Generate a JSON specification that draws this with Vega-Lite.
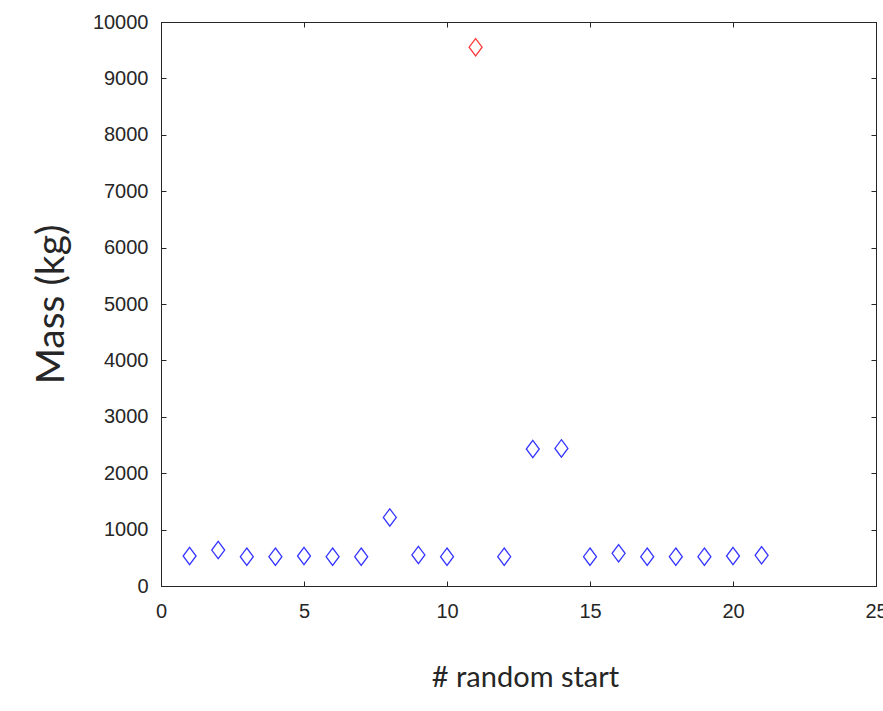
{
  "$schema": "https://vega.github.io/schema/vega-lite/v6.json",
  "width": 715,
  "height": 564,
  "autosize": "none",
  "padding": {"left": 161, "top": 22, "right": 7, "bottom": 125},
  "background": "white",
  "config": {
    "view": {"stroke": "#262626", "strokeWidth": 1},
    "axis": {
      "grid": false,
      "domainColor": "#262626",
      "tickColor": "#262626",
      "tickSize": -5,
      "labelFont": "Liberation Sans",
      "labelFontSize": 20,
      "labelColor": "#262626",
      "titleFont": "Lato",
      "titleFontWeight": "normal",
      "titleColor": "#262626"
    }
  },
  "data": {
    "values": [
      {"start": 1, "mass": 532, "group": "other"},
      {"start": 2, "mass": 638, "group": "other"},
      {"start": 3, "mass": 520, "group": "other"},
      {"start": 4, "mass": 520, "group": "other"},
      {"start": 5, "mass": 532, "group": "other"},
      {"start": 6, "mass": 520, "group": "other"},
      {"start": 7, "mass": 520, "group": "other"},
      {"start": 8, "mass": 1215, "group": "other"},
      {"start": 9, "mass": 550, "group": "other"},
      {"start": 10, "mass": 520, "group": "other"},
      {"start": 11, "mass": 9553, "group": "max"},
      {"start": 12, "mass": 520, "group": "other"},
      {"start": 13, "mass": 2429, "group": "other"},
      {"start": 14, "mass": 2440, "group": "other"},
      {"start": 15, "mass": 520, "group": "other"},
      {"start": 16, "mass": 580, "group": "other"},
      {"start": 17, "mass": 520, "group": "other"},
      {"start": 18, "mass": 520, "group": "other"},
      {"start": 19, "mass": 520, "group": "other"},
      {"start": 20, "mass": 532, "group": "other"},
      {"start": 21, "mass": 544, "group": "other"}
    ]
  },
  "layer": [
    {
      "mark": {"type": "point", "filled": false, "strokeWidth": 1.3, "size": 300, "shape": "M0,-1L0.75,0L0,1L-0.75,0Z", "opacity": 1},
      "encoding": {
        "x": {
          "field": "start", "type": "quantitative",
          "scale": {"domain": [0, 25], "nice": false, "zero": false},
          "axis": {"values": [0, 5, 10, 15, 20, 25], "format": "d", "title": "# random start", "titleFontSize": 29, "titlePadding": 42, "titleX": 364, "labelPadding": 20, "labelFlush": false}
        },
        "y": {
          "field": "mass", "type": "quantitative",
          "scale": {"domain": [0, 10000], "nice": false},
          "axis": {"values": [0, 1000, 2000, 3000, 4000, 5000, 6000, 7000, 8000, 9000, 10000], "format": "d", "title": "Mass (kg)", "titleFontSize": 39, "titlePadding": 21, "labelPadding": 18, "labelFlush": false}
        },
        "color": {
          "field": "group", "type": "nominal",
          "scale": {"domain": ["other", "max"], "range": ["#3535ff", "#ff3a3a"]},
          "legend": null
        }
      }
    },
    {
      "mark": {"type": "point", "opacity": 0},
      "encoding": {
        "x": {"field": "start", "type": "quantitative", "axis": {"orient": "top", "values": [0, 5, 10, 15, 20, 25], "labels": false, "title": null}},
        "y": {"field": "mass", "type": "quantitative", "axis": {"orient": "right", "values": [0, 1000, 2000, 3000, 4000, 5000, 6000, 7000, 8000, 9000, 10000], "labels": false, "title": null}}
      }
    }
  ],
  "resolve": {"axis": {"x": "independent", "y": "independent"}}
}
